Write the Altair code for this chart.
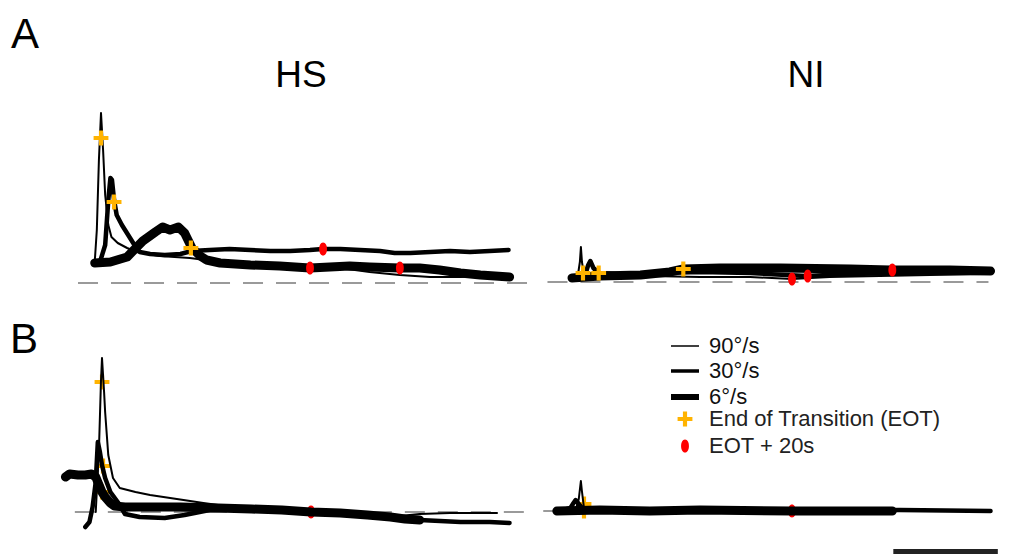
import altair as alt
import pandas as pd

FONT = "Liberation Sans"

# ---------------- data (time in s relative to the 90°/s End of Transition, amplitude in a.u.) -------------
SPEEDS = ["90°/s", "30°/s", "6°/s"]
MARKERS = ["End of Transition (EOT)", "EOT + 20s"]

# Panel A, HS
A_HS_T90 = [-0.8, -0.6, -0.4, -0.2, 0, 0.2, 0.4, 0.7, 1.0, 1.6, 2.5, 3.4, 5.6, 8.5, 11.4, 15.2, 19.0, 22.9, 25.7, 28.6, 31.5, 34.4, 36.3, 38.2, 39.1]
A_HS_Y90 = [18, 21, 53, 123, 170, 133, 88, 58, 46, 40, 35, 31, 27, 25, 21, 18, 17, 15, 11, 8, 6, 6, 7, 6, 6]
A_HS_T30 = [-0.6, -0.1, 0.4, 0.7, 0.9, 1.05, 1.25, 1.5, 2.0, 2.6, 3.2, 3.7, 4.7, 6.1, 7.6, 8.7, 10.4, 12.3, 14.3, 16.2, 18.1, 20.0, 21.2, 22.9, 24.8, 26.7, 28.1, 29.6, 31.5, 33.4, 35.3, 37.2, 39.0]
A_HS_Y30 = [19, 21, 38, 83, 105, 103, 83, 68, 58, 48, 38, 31, 29, 28, 29, 32, 33, 34, 33, 32, 32, 33, 34, 34, 33, 32, 30, 30, 31, 32, 31, 32, 33]
A_HS_T6 = [-0.6, 0.9, 2.5, 4.0, 5.2, 5.9, 6.6, 7.4, 8.0, 8.7, 9.5, 10.1, 11.4, 14.3, 17.1, 20.0, 21.9, 23.8, 25.7, 28.6, 30.5, 32.4, 34.4, 36.3, 37.7, 39.1]
A_HS_Y6 = [20, 21, 26, 42, 51, 56, 53, 56, 50, 35, 27, 23, 20, 18, 17, 15, 16, 17, 16, 15, 15, 13, 10, 8, 7, 6]

# Panel A, NI
A_NI_T90 = [-1.05, -0.5, -0.3, -0.2, -0.1, 0.1, 0.7, 2.6, 6.4, 11.2, 16.0, 20.0, 23.6, 28.4, 33.2, 39.0]
A_NI_Y90 = [4, 6, 20, 35, 20, 7, 6, 7, 6, 5, 5, 3, 5, 6, 7, 8]
A_NI_T30 = [-1.05, 0.2, 0.5, 0.7, 1.0, 1.5, 3.5, 7.4, 11.2, 16.0, 21.3, 25.6, 30.3, 35.1, 39.0]
A_NI_Y30 = [5, 7, 17, 21, 14, 9, 8, 9, 10, 9, 6, 8, 9, 10, 10]
A_NI_T6 = [-1.05, 1.6, 5.5, 8.3, 9.6, 13.1, 18.9, 25.6, 29.4, 35.1, 39.0]
A_NI_Y6 = [4, 6, 7, 10, 13, 14, 14, 13, 12, 12, 11]

# Panel B, HS
B_HS_T90 = [-0.6, -0.3, -0.1, 0, 0.2, 0.3, 0.6, 1.05, 1.7, 3.2, 4.6, 7.8, 9.7, 11.1, 14.3, 20.0, 24.7, 28.5, 30.4, 33.3, 36.2, 37.8]
B_HS_Y90 = [0, 60, 130, 154, 120, 100, 57, 34, 24, 20, 17, 12, 9, 7, 5, 1, -2, -4, -2, -1, -1, -1]
B_HS_T30 = [-1.6, -1.2, -0.9, -0.6, -0.4, -0.2, 0, 0.3, 0.8, 1.5, 2.2, 3.6, 6.0, 7.9, 10.3, 14.2, 20.0, 24.7, 28.5, 30.4, 34.3, 37.1, 39.0]
B_HS_Y30 = [-15, -10, 5, 30, 70, 60, 47, 34, 20, 10, -2, -5, -6, -3, 2, 3, 0, -3, -6, -8, -10, -10, -11]
B_HS_T6 = [-3.5, -3.1, -2.3, -1.6, -1.0, -0.6, -0.4, 0, 0.3, 0.8, 1.2, 2.2, 4.6, 7.5, 11.1, 14.3, 17.2, 20.0, 22.8, 25.4, 27.6, 29.0, 30.4]
B_HS_Y6 = [35, 38, 37, 37, 38, 35, 30, 20, 15, 9, 6, 5, 5, 5, 4, 3, 2, 0, -1, -3, -5, -7, -8]

# Panel B, NI
B_NI_T90 = [-2.3, -0.8, -0.5, -0.3, -0.2, 0, 0.6, 6.3, 15.9, 25.5, 38.9]
B_NI_Y90 = [0, 1, 12, 30, 20, 3, 1, 1, 0, 1, 0]
B_NI_T30 = [-2.3, -1.3, -1.0, -0.8, -0.5, -0.1, 1.5, 11.1, 20.7, 30.2, 38.9]
B_NI_Y30 = [0, 3, 8, 11, 7, 2, 1, 1, 0, 1, 0]
B_NI_T6 = [-2.6, 1.5, 6.3, 11.1, 19.9, 25.5, 29.5]
B_NI_Y6 = [0, 1, 0, 1, 0, 0, 0]

# markers: End of Transition and EOT + 20 s
A_HS_EOT_T, A_HS_EOT_Y = [0, 1.25, 8.6], [145, 81, 35]
A_HS_P20_T, A_HS_P20_Y = [20, 21.25, 28.6], [15, 34, 15]
A_NI_EOT_T, A_NI_EOT_Y = [0, 1.5, 9.6], [9, 9, 13]
A_NI_P20_T, A_NI_P20_Y = [20, 21.5, 29.6], [3, 6, 12]
B_HS_EOT_T, B_HS_EOT_Y = [0, 0.1, 0], [130, 46, 20]
B_HS_P20_T, B_HS_P20_Y = [20], [0]
B_NI_EOT_T, B_NI_EOT_Y = [0, 0], [7, 0]
B_NI_P20_T, B_NI_P20_Y = [19.9], [0]

# dashed zero lines (time extent) and the 10 s scale bar
ZERO_EXTENT = {"A_HS": (-2.2, 41.0), "A_NI": (-3.4, 38.8), "B_HS": (-2.6, 41.0), "B_NI": (-3.9, 40.0)}
SCALEBAR_START, SCALEBAR_LEN, SCALEBAR_LEVEL = 29.6, 10, -41

# ---------------- layout / style ----------------
PX_PER_S = 10.45
X0 = {"A_HS": 101, "A_NI": 583, "B_HS": 102, "B_NI": 584}
BASE = {"A_HS": 283, "A_NI": 282, "B_HS": 512, "B_NI": 511}

TRACE_WIDTHS = [2, 4.5, 9]
LEGEND_WIDTHS = [1.5, 3.5, 6]
ORANGE = "#ffb300"
RED = "#ff0000"
PLUS = "M-1,-0.28H-0.28V-1H0.28V-0.28H1V0.28H0.28V1H-0.28V0.28H-1Z"
ELLIPSE = "M0,-1C0.8,-1 0.8,1 0,1C-0.8,1 -0.8,-1 0,-1Z"
LINE_SYM = "M-2.8,0H2.8"


def xsc(p):
    x0 = X0[p]
    return alt.Scale(domain=[0, 10], range=[x0, x0 + 10 * PX_PER_S], nice=False, zero=False)


def ysc(p):
    b = BASE[p]
    return alt.Scale(domain=[0, 100], range=[b, b - 100], nice=False, zero=False)


traces = {
    "A_HS": [(A_HS_T90, A_HS_Y90), (A_HS_T30, A_HS_Y30), (A_HS_T6, A_HS_Y6)],
    "A_NI": [(A_NI_T90, A_NI_Y90), (A_NI_T30, A_NI_Y30), (A_NI_T6, A_NI_Y6)],
    "B_HS": [(B_HS_T90, B_HS_Y90), (B_HS_T30, B_HS_Y30), (B_HS_T6, B_HS_Y6)],
    "B_NI": [(B_NI_T90, B_NI_Y90), (B_NI_T30, B_NI_Y30), (B_NI_T6, B_NI_Y6)],
}
markers = {
    "A_HS": [(A_HS_EOT_T, A_HS_EOT_Y), (A_HS_P20_T, A_HS_P20_Y)],
    "A_NI": [(A_NI_EOT_T, A_NI_EOT_Y), (A_NI_P20_T, A_NI_P20_Y)],
    "B_HS": [(B_HS_EOT_T, B_HS_EOT_Y), (B_HS_P20_T, B_HS_P20_Y)],
    "B_NI": [(B_NI_EOT_T, B_NI_EOT_Y), (B_NI_P20_T, B_NI_P20_Y)],
}

speed_legend = alt.Legend(
    orient="none", legendX=674, legendY=335, title=None, symbolType=LINE_SYM,
    symbolSize=100, symbolStrokeColor="black", symbolOpacity=1, labelFont=FONT, labelFontSize=22,
    labelColor="#111111", rowPadding=3, labelOffset=13, padding=0, labelLimit=400,
)
marker_legend = alt.Legend(
    orient="none", legendX=674, legendY=408, title=None, symbolSize=180,
    labelFont=FONT, labelFontSize=22, labelColor="#222222", rowPadding=5,
    labelOffset=13, padding=0, labelLimit=400,
)


def trace_df(p):
    rows = []
    for sp, (T, Y) in zip(SPEEDS, traces[p]):
        for t, y in zip(T, Y):
            rows.append({"speed": sp, "t": t, "amp": y})
    return pd.DataFrame(rows)


layers = []
for p in ["A_HS", "A_NI", "B_HS", "B_NI"]:
    lo, hi = ZERO_EXTENT[p]
    zero_df = pd.DataFrame({"t0": [lo], "t1": [hi], "amp": [0]})
    layers.append(
        alt.Chart(zero_df).mark_rule(color="#9a9a9a", strokeWidth=2, strokeDash=[20, 13]).encode(
            x=alt.X("t0:Q", scale=xsc(p), axis=None),
            x2="t1:Q",
            y=alt.Y("amp:Q", scale=ysc(p), axis=None),
        )
    )
    trace_layer = alt.Chart(trace_df(p)).mark_line(color="black", strokeCap="round", strokeJoin="round").encode(
        x=alt.X("t:Q", scale=xsc(p), axis=None),
        y=alt.Y("amp:Q", scale=ysc(p), axis=None),
        detail="speed:N",
        strokeWidth=alt.StrokeWidth("speed:N", scale=alt.Scale(type="ordinal", domain=SPEEDS, range=TRACE_WIDTHS),
                                    legend=None),
        order=alt.Order("t:Q"),
    )
    mrows = []
    for mk, (T, Y) in zip(MARKERS, markers[p]):
        for t, y in zip(T, Y):
            mrows.append({"marker": mk, "t": t, "amp": y})
    mk_df = pd.DataFrame(mrows)
    marker_layer = alt.Chart(mk_df).mark_point(filled=True, opacity=1, strokeWidth=0).encode(
        x=alt.X("t:Q", scale=xsc(p), axis=None),
        y=alt.Y("amp:Q", scale=ysc(p), axis=None),
        color=alt.Color("marker:N", scale=alt.Scale(domain=MARKERS, range=[ORANGE, RED]), legend=marker_legend),
        shape=alt.Shape("marker:N", scale=alt.Scale(domain=MARKERS, range=[PLUS, ELLIPSE]), legend=marker_legend),
        size=alt.Size("marker:N", scale=alt.Scale(type="ordinal", domain=MARKERS, range=[220, 170]), legend=None),
    )
    if p.startswith("B"):
        layers += [marker_layer, trace_layer]
    else:
        layers += [trace_layer, marker_layer]

# legend carrier for the three speeds (invisible copy of panel A-HS traces, own stroke-width scale)
layers.append(
    alt.Chart(trace_df("A_HS")).mark_line(color="black", opacity=0, strokeOpacity=0).encode(
        x=alt.X("t:Q", scale=xsc("A_HS"), axis=None),
        y=alt.Y("amp:Q", scale=ysc("A_HS"), axis=None),
        detail="speed:N",
        strokeWidth=alt.StrokeWidth("speed:N", scale=alt.Scale(type="ordinal", domain=SPEEDS, range=LEGEND_WIDTHS),
                                    sort=SPEEDS, legend=speed_legend),
    )
)

# scale bar (10 s) under panel B, NI
sb_df = pd.DataFrame({"t0": [SCALEBAR_START], "t1": [SCALEBAR_START + SCALEBAR_LEN], "amp": [SCALEBAR_LEVEL]})
layers.append(
    alt.Chart(sb_df).mark_rule(color="#222222", strokeWidth=6).encode(
        x=alt.X("t0:Q", scale=xsc("B_NI"), axis=None),
        x2="t1:Q",
        y=alt.Y("amp:Q", scale=ysc("B_NI"), axis=None),
    )
)

# panel letters and column titles
one = alt.Data(values=[{}])
for txt, x, y, size, align in [("A", 11, 48, 42, "left"), ("B", 10, 353, 42, "left"),
                               ("HS", 301, 87, 37, "center"), ("NI", 806, 87, 37, "center")]:
    layers.append(
        alt.Chart(one).mark_text(font=FONT, fontSize=size, align=align, baseline="alphabetic", color="black").encode(
            x=alt.value(x), y=alt.value(y), text=alt.value(txt)
        )
    )

chart = alt.layer(*layers).resolve_scale(
    x="independent", y="independent", strokeWidth="independent"
).properties(
    width=1019, height=554, autosize=alt.AutoSizeParams(type="none"), padding=0, background="white"
).configure_view(strokeWidth=0)

chart.save("out.html", embed_options={"renderer": "svg", "actions": False})
